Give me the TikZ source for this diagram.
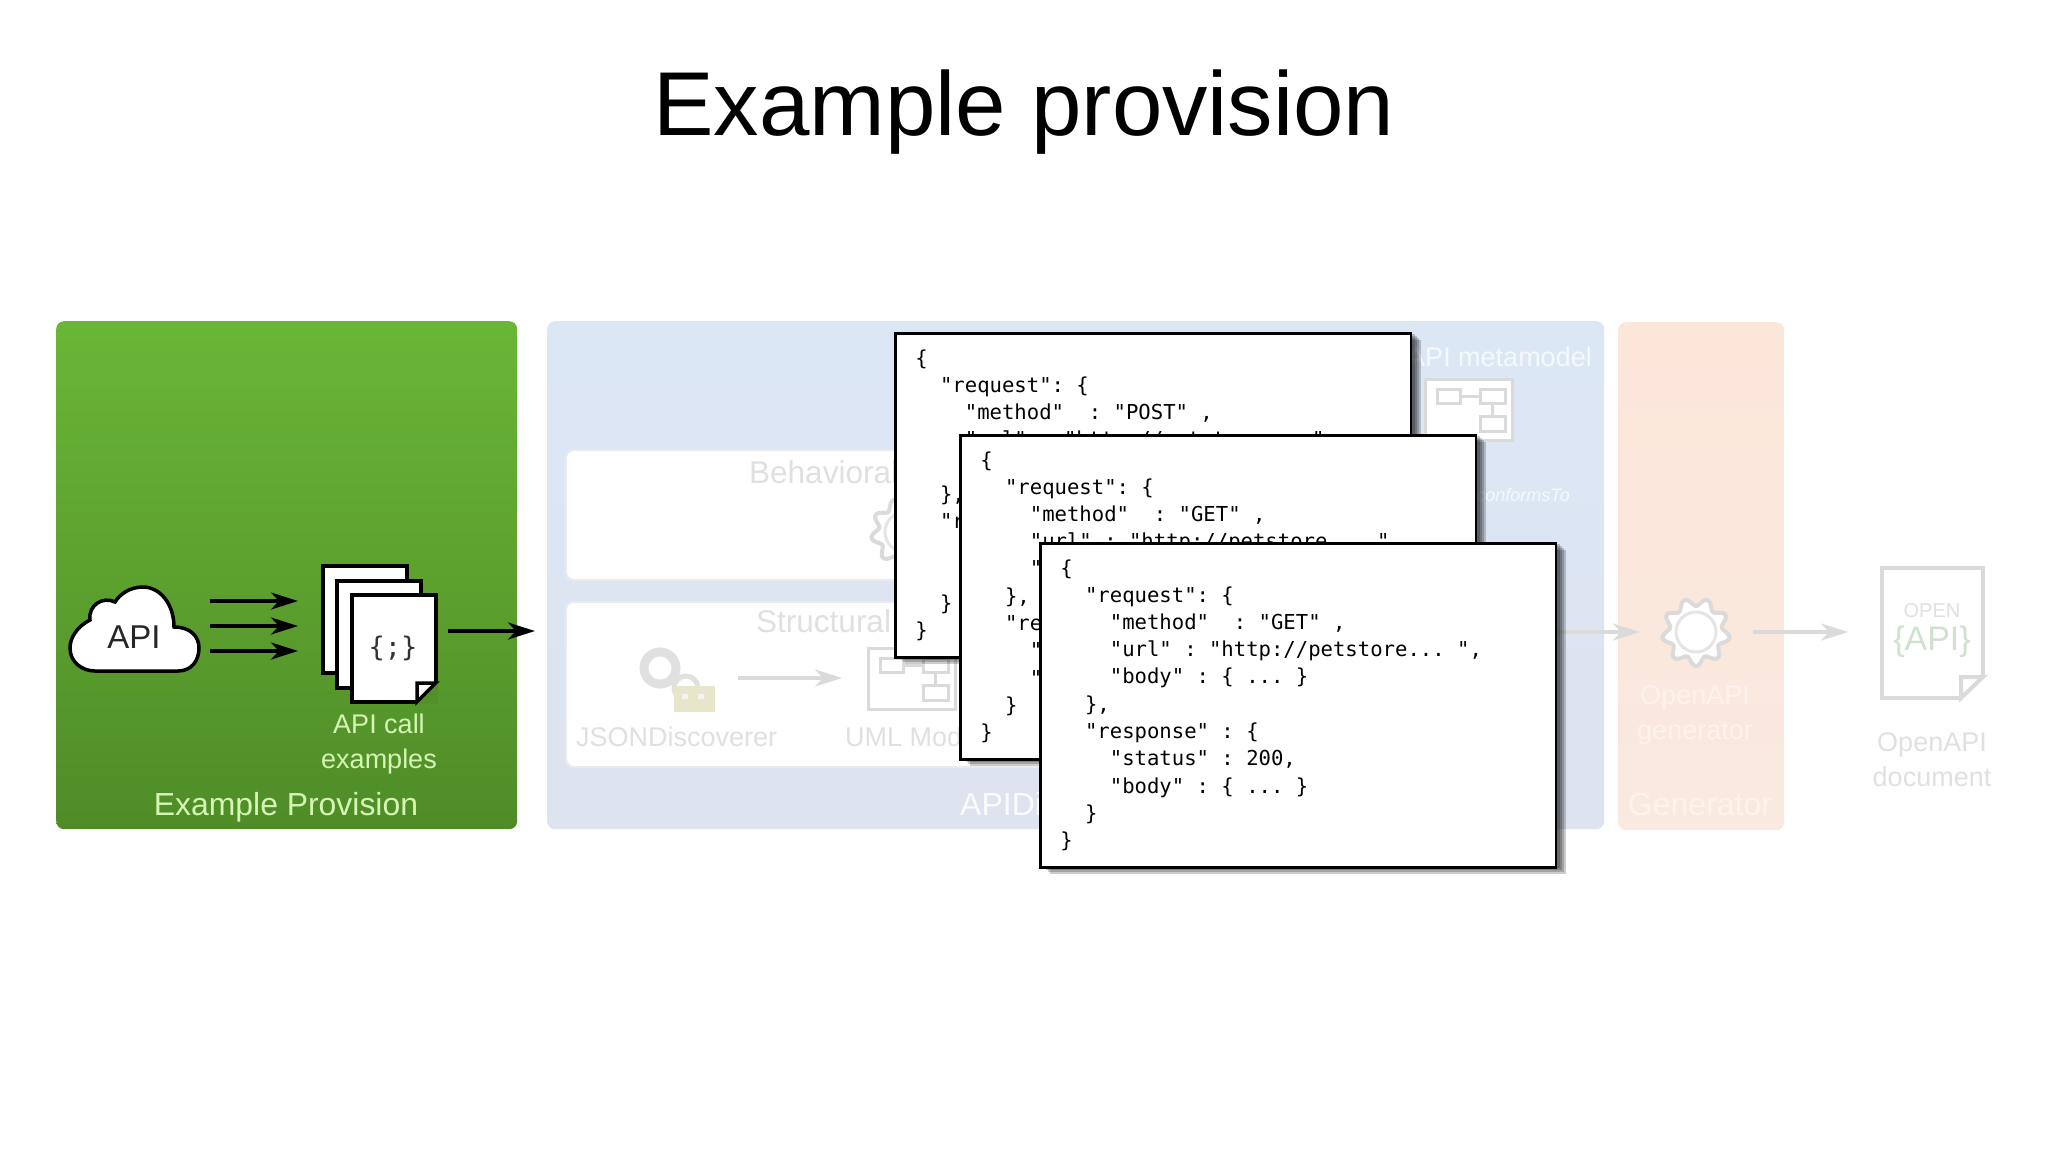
\documentclass[tikz,border=0pt]{standalone}
\usepackage{fontspec}
\setmainfont{Liberation Sans}
\newfontfamily\codefont{DejaVu Sans Mono}
\usetikzlibrary{arrows.meta, shadows}
\definecolor{greenTop}{HTML}{6AB636}
\definecolor{greenBot}{HTML}{4F8C27}
\definecolor{greenLabel}{HTML}{D4F5B4}
\definecolor{blueTop}{HTML}{DCE7F6}
\definecolor{blueBot}{HTML}{DDE3EF}
\definecolor{orangeTop}{HTML}{FCE6DA}
\definecolor{orangeBot}{HTML}{FAE9DF}
\definecolor{fadeLine}{HTML}{DADADA}
\definecolor{fadeText}{HTML}{E0E0E0}
\newcommand{\ind}{\phantom{xx}}
\newcommand{\gap}{\phantom{x}}
\newcommand{\jsonbody}[1]{\vspace*{3.2pt}\raisebox{-3.5pt}{\{}\\
    \ind"request":\gap\{\\
    \ind\ind"method"\gap\gap:\gap"#1"\gap,\\
    \ind\ind"url"\gap:\gap"http://petstore...\gap",\\
    \ind\ind"body"\gap:\gap\{\gap...\gap\}\\
    \ind\},\\
    \ind"response"\gap:\gap\{\\
    \ind\ind"status"\gap:\gap200,\\
    \ind\ind"body"\gap:\gap\{\gap...\gap\}\\
    \ind\}\\
    \}}
\tikzset{
    >={Stealth[length=27pt, width=17pt, inset=8pt]},
    panel/.style={anchor=north west, rounded corners=8pt, inner sep=0pt},
    subpanel/.style={panel, fill=white, draw=black!8, line width=2pt, minimum width=880pt},
    label/.style={inner sep=0pt, font=\fontsize{#1}{#1}\selectfont},
    twolines/.style={inner sep=0pt, align=center, font=\fontsize{27}{35}\selectfont},
    page/.style={anchor=north west, draw, fill=white, line width=3.5pt, inner sep=0pt, minimum width=84pt, minimum height=107pt},
    softshadow/.style={drop shadow={shadow xshift=#1pt, shadow yshift=-#1pt+3pt, fill=black, opacity=.2}},
    jsoncard/.style={anchor=north west, draw, fill=white, line width=2.5pt, minimum width=515pt, minimum height=324pt,
        text width=475.5pt, inner xsep=20pt, inner ysep=0pt, align=left,
        font=\codefont\fontsize{20.6}{27.3}\selectfont,
        softshadow=10, softshadow=8, softshadow=6, softshadow=4},
    blackarrow/.style={->, line width=3.5pt, black},
    fadearrow/.style={->, line width=3.5pt, fadeLine},
    umlicon/.pic={
        \draw [fadeLine, line width=3pt, fill=white] (0,0) rectangle (87,61);
        \draw [fadeLine, line width=3pt] (12,10) rectangle (35,24) (55,10) rectangle (80,24) (55,37) rectangle (80,52);
        \draw [fadeLine, line width=3pt] (35,17) -- (55,17) (67,24) -- (67,37);
    },
    gearicon/.pic={
        \draw [fadeLine, line width=4pt, fill=white] plot [domain=0:356, samples=90, smooth cycle] (\x:{30+4*sin(9*\x)});
        \draw [fadeLine!70, line width=3pt] (0,0) circle (20);
    },
}

\begin{document}
\begin{tikzpicture}[x=1pt, y=-1pt]
    \useasboundingbox (0,0) rectangle (2048,1152);

    \node (title) [label=90.7] at (1024,112) {Example provision};

    \node (green) [panel, top color=greenTop, bottom color=greenBot, minimum width=461pt, minimum height=508pt] at (56,321) {};
    \node (blue) [panel, top color=blueTop, bottom color=blueBot, minimum width=1057pt, minimum height=508pt] at (547,321) {};
    \node (orange) [panel, top color=orangeTop, bottom color=orangeBot, minimum width=166pt, minimum height=508pt] at (1618,322) {};
    \node (behavioral) [subpanel, minimum height=130pt] at (565,449) {};
    \node (structural) [subpanel, minimum height=165pt] at (565,601) {};

    \draw [black, line width=3.5pt, fill=white] (95,671) -- (178,671)
        .. controls (192,671) and (199,660) .. (199,648)
        .. controls (199,636) and (190,627) .. (174,627)
        .. controls (174,604) and (160,587) .. (143,587)
        .. controls (130,587) and (120,594) .. (115,602)
        .. controls (103,596) and (88,605) .. (90,620)
        .. controls (78,626) and (70,637) .. (70,648)
        .. controls (70,662) and (82,671) .. (95,671) -- cycle;
    \node (cloud) [inner sep=0pt, minimum width=129pt, minimum height=84pt, label=33, text=black!85] at (134,637) {API};

    \node (pageA) [page] at (321,564) {};
    \node (pageB) [page] at (335,579) {};
    \node (pageC) [page] at (350,593) {};
    \fill [greenBot!90!greenTop] (437.8,681) -- (437.8,703.8) -- (415,703.8) -- cycle;
    \draw [line width=3.5pt, fill=white] (435.75,683) -- (417,701.75) -- (417,683) -- cycle;
    \node (braces) [inner sep=0pt, font=\codefont\fontsize{27}{27}\selectfont, text=black!80] at (393,648) {\{;\}};

    \coordinate (arrowA) at ([xshift=11pt, yshift=36pt]cloud.east);
    \coordinate (arrowB) at ([xshift=11pt, yshift=11pt]cloud.east);
    \coordinate (arrowC) at ([xshift=11pt, yshift=-14pt]cloud.east);
    \draw [blackarrow, shorten >=23pt] (arrowA) -- (arrowA -| pageA.west);
    \draw [blackarrow, shorten >=23pt] (arrowB) -- (arrowB -| pageA.west);
    \draw [blackarrow, shorten >=23pt] (arrowC) -- (arrowC -| pageA.west);
    \coordinate (greenOut) at (535,631);
    \draw [blackarrow, shorten <=10pt] (greenOut -| pageC.east) -- (greenOut);

    \node (callsLabel) [twolines, text=greenLabel] at (379,744) {API call\\examples};
    \node (greenLabel) [label=31.9, text=greenLabel] at (286,807) {Example Provision};

    \node (behavioralLabel) [label=31.5, text=fadeText, anchor=base west] at (749,483) {Behavioral};
    \node (structuralLabel) [label=31.5, text=fadeText, anchor=base west] at (756,632) {Structural};
    \pic at (905,532) {gearicon};

    \draw [black!12, line width=9pt] (660,668) circle (16);
    \draw [black!12, line width=5pt] (686,688) circle (12);
    \fill [yellow!12!fadeText] (674,686) rectangle (715,712);
    \fill [white!60!fadeText] (682,694) rectangle (688,699) (698,694) rectangle (704,699);
    \node (jsonLabel) [label=27, text=fadeText, anchor=base west] at (576,746) {JSONDiscoverer};
    \pic at (868,648) {umlicon};
    \node (umlLabel) [label=27, text=fadeText, anchor=base west] at (845,746) {UML Model};
    \coordinate (jsonOut) at (738,678);
    \coordinate (umlIn) at (842,678);
    \draw [fadearrow] (jsonOut) -- (umlIn);

    \node (apidLabel) [label=32, text=white!85!blueBot, anchor=base west] at (960,815) {APIDiscoverer};
    \node (metaLabel) [label=27, text=white!70!blueTop, anchor=base east] at (1592,366) {API metamodel};
    \pic at (1425,379) {umlicon};
    \node (conformsLabel) [label=18, text=white!70!blueTop, anchor=base east] at (1570,501) {\itshape conformsTo};

    \node (gen) [circle, inner sep=0pt, minimum size=74pt] at (1696,632) {};
    \pic at (gen.center) {gearicon};
    \node (genLabel) [twolines, text=white!50!orangeTop] at (1695,715) {OpenAPI\\generator};
    \node (orangeLabel) [label=32, text=white!50!orangeTop] at (1700,804) {Generator};

    \node (doc) [anchor=north west, draw=fadeLine, fill=white, line width=4pt, minimum width=101pt, minimum height=130pt, inner sep=0pt] at (1880,566) {};
    \fill [white] (1985.2,675) -- (1985.2,700.2) -- (1959,700.2) -- cycle;
    \draw [fadeLine, line width=4pt] (1983,677) -- (1961,698) -- (1961,677) -- cycle;
    \node (openLabel) [label=20, text=fadeText] at (1932,611) {OPEN};
    \node (apiLabel) [label=34, text=green!8!fadeText] at (1932,642) {\{API\}};
    \node (docLabel) [twolines, text=fadeText] at (1932,760) {OpenAPI\\document};

    \coordinate (metaOut) at (1500,632);
    \draw [fadearrow] (metaOut) -- ([xshift=-19pt]gen.west);
    \draw [fadearrow] ([xshift=20pt]gen.east) -- ([xshift=-32pt]doc.west |- gen.east);

    \node (cardA) [jsoncard] at (894,332) {\jsonbody{POST}};
    \node (cardB) [jsoncard] at (959,434) {\jsonbody{GET}};
    \node (cardC) [jsoncard] at (1039,542) {\jsonbody{GET}};
\end{tikzpicture}
\end{document}
